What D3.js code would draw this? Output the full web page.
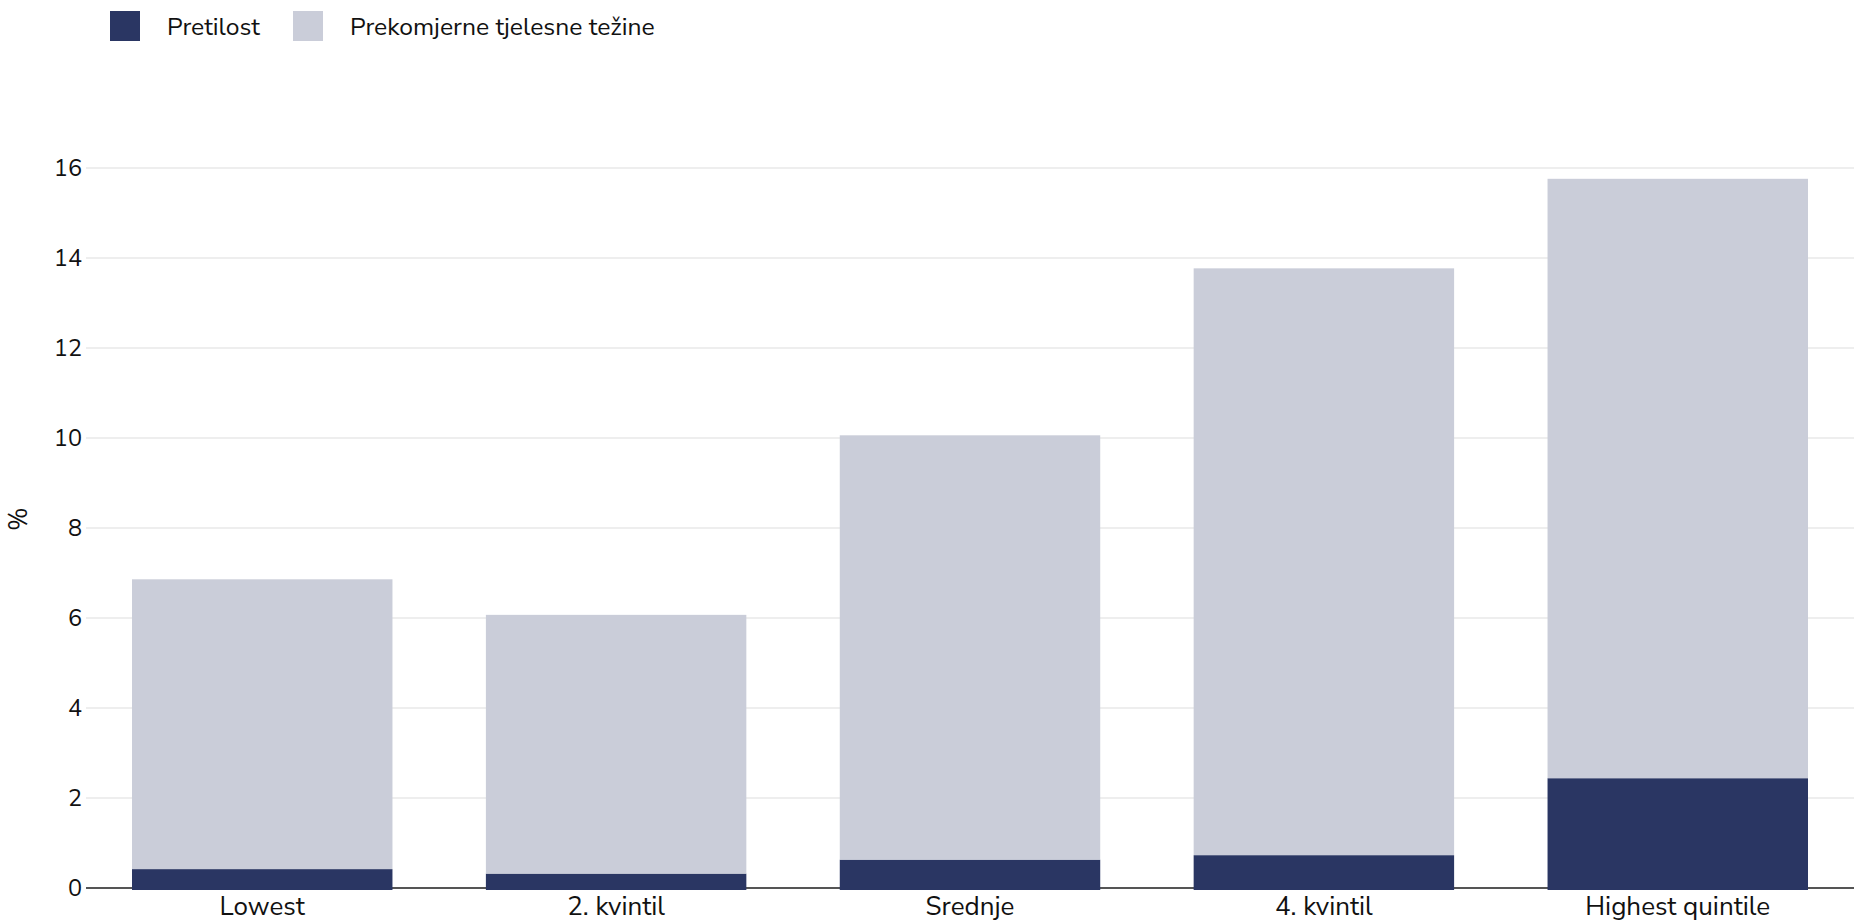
<!DOCTYPE html>
<html>
<head>
<meta charset="utf-8">
<script src="https://cdn.jsdelivr.net/npm/d3@7"></script>
<style>
  body { margin: 0; background: #fff; }
  text { font-family: "Nunito Sans", Lato, "Noto Sans", sans-serif; fill: #111; }
</style>
</head>
<body>
<div id="chart"></div>
<script>
var categories = ['Lowest', '2. kvintil', 'Srednje', '4. kvintil', 'Highest quintile'];
var seriesNames = ['Pretilost', 'Prekomjerne tjelesne težine'];
var obese = [0.42, 0.32, 0.63, 0.73, 2.44];       // Pretilost
var totals = [6.86, 6.07, 10.06, 13.77, 15.76];   // top of stacked bar
var yTicks = [0, 2, 4, 6, 8, 10, 12, 14, 16];
var colors = ['#2a3663', '#cacdd9'];

var width = 1854, height = 923,
    margin = {top: 168, right: 0, bottom: 35, left: 86};

var svg = d3.select('#chart').append('svg')
  .attr('width', width)
  .attr('height', height);

var x = d3.scaleBand()
  .domain(categories)
  .range([margin.left, width - margin.right])
  .paddingInner(0.264)
  .paddingOuter(0.13);

var y = d3.scaleLinear()
  .domain([0, 16])
  .range([height - margin.bottom, margin.top]);

// gridlines
svg.append('g')
  .selectAll('line')
  .data(yTicks.filter(function(d) { return d > 0; }))
  .enter().append('line')
  .attr('x1', margin.left)
  .attr('x2', width)
  .attr('y1', function(d) { return y(d); })
  .attr('y2', function(d) { return y(d); })
  .attr('stroke', '#eeeeee')
  .attr('stroke-width', 2);

// y tick labels
svg.append('g')
  .selectAll('text')
  .data(yTicks)
  .enter().append('text')
  .attr('x', margin.left - 4)
  .attr('y', function(d) { return y(d); })
  .attr('dy', '0.35em')
  .attr('text-anchor', 'end')
  .style('font-size', '23.5px')
  .text(function(d) { return d; });

// axis title
svg.append('text')
  .attr('transform', 'translate(' + 27 + ',' + y(8.2) + ') rotate(-90)')
  .attr('text-anchor', 'middle')
  .style('font-size', '25px')
  .text('%');

// zero line
svg.append('line')
  .attr('x1', margin.left)
  .attr('x2', width)
  .attr('y1', y(0))
  .attr('y2', y(0))
  .attr('stroke', '#555')
  .attr('stroke-width', 2);

// stacked bars
var rows = categories.map(function(c, i) {
  return {cat: c, obese: obese[i], over: totals[i] - obese[i]};
});
var stack = d3.stack().keys(['obese', 'over'])(rows);

svg.append('g')
  .selectAll('g')
  .data(stack)
  .enter().append('g')
  .attr('fill', function(d, i) { return colors[i]; })
  .selectAll('rect')
  .data(function(d) { return d; })
  .enter().append('rect')
  .attr('x', function(d) { return x(d.data.cat); })
  .attr('width', x.bandwidth())
  .attr('y', function(d) { return y(d[1]); })
  .attr('height', function(d) { return y(d[0]) - y(d[1]) + (d[0] === 0 ? 2 : 0); });

// x labels
svg.append('g')
  .selectAll('text')
  .data(categories)
  .enter().append('text')
  .attr('x', function(d) { return x(d) + x.bandwidth() / 2; })
  .attr('y', y(0) + 27)
  .attr('text-anchor', 'middle')
  .style('font-size', '26px')
  .text(function(d) { return d; });

// legend
var legend = svg.append('g').attr('transform', 'translate(110,11)');
var lx = [0, 183];
seriesNames.forEach(function(name, i) {
  var g = legend.append('g').attr('transform', 'translate(' + lx[i] + ',0)');
  g.append('rect')
    .attr('width', 30).attr('height', 30)
    .attr('fill', colors[i]);
  g.append('text')
    .attr('x', 57).attr('y', 15).attr('dy', '0.35em')
    .style('font-size', '24.7px')
    .text(name);
});
</script>
</body>
</html>
